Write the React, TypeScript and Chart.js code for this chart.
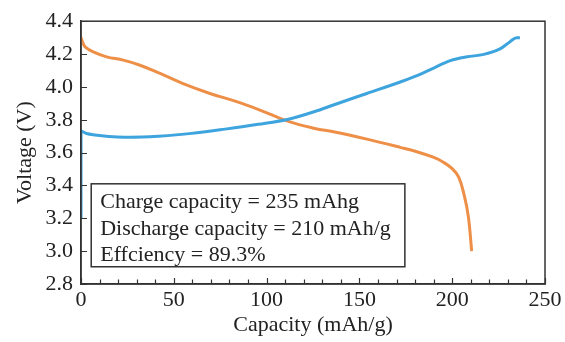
import React, { useEffect, useRef } from "react";
import { Chart, registerables } from "chart.js";

Chart.register(...registerables);

// ---- data ----
const chargeCapacity = [0, 0, 3, 7.5, 15, 23.7, 33, 41.7, 59.6, 77.6, 95.5, 111.7, 126, 136, 154, 172, 181, 190, 199, 208, 217, 226, 231, 234.7, 236.5];
const chargeVoltage = [3.2, 3.73, 3.716, 3.707, 3.698, 3.694, 3.695, 3.7, 3.717, 3.743, 3.772, 3.803, 3.85, 3.89, 3.96, 4.03, 4.068, 4.115, 4.16, 4.183, 4.198, 4.233, 4.274, 4.3, 4.3];

const dischargeCapacity = [0, 1, 2.2, 6.6, 13.8, 22.8, 31.8, 42.6, 55, 69.5, 83.9, 96.4, 111.7, 126, 136, 154, 172, 181, 189.8, 195, 200, 203.5, 206.5, 208.7, 210.5];
const dischargeVoltage = [4.3, 4.27, 4.244, 4.213, 4.183, 4.163, 4.132, 4.082, 4.02, 3.96, 3.91, 3.859, 3.79, 3.747, 3.727, 3.682, 3.632, 3.605, 3.572, 3.543, 3.502, 3.45, 3.34, 3.21, 3.0];

const xLabelStep = 50;
const xMinorStep = 10;
const yStep = 0.2;
const xRange = [0, 250];
const yRange = [2.8, 4.4];

const xTitle = "Capacity (mAh/g)";
const yTitle = "Voltage (V)";

const noteLines = [
  "Charge capacity = 235 mAhg",
  "Discharge capacity = 210 mAh/g",
  "Effciency = 89.3%",
];
// note box corners in data units
const noteBoxX = [5.5, 174.5];
const noteBoxY = [2.905, 3.41];

const FONT = "'Liberation Serif', 'Times New Roman', serif";
const INK = "#333333";
const BLUE = "#3ea4de";
const ORANGE = "#ee8f47";

const framePlugin = {
  id: "frame",
  afterDatasetsDraw(chart: any) {
    const { ctx, chartArea, scales } = chart;
    const x = scales.x, y = scales.y;
    ctx.save();
    // inward tick marks
    ctx.strokeStyle = INK;
    ctx.lineWidth = 1.2;
    ctx.beginPath();
    x.ticks.forEach((t: any) => {
      const px = Math.round(x.getPixelForValue(t.value)) + 0.5;
      const len = Math.round(t.value) % xLabelStep === 0 ? 6 : 4.5;
      ctx.moveTo(px, chartArea.bottom);
      ctx.lineTo(px, chartArea.bottom - len);
    });
    y.ticks.forEach((t: any) => {
      const py = Math.round(y.getPixelForValue(t.value)) + 0.5;
      ctx.moveTo(chartArea.left, py);
      ctx.lineTo(chartArea.left + 6, py);
    });
    ctx.stroke();
    // note box
    const left = x.getPixelForValue(noteBoxX[0]);
    const right = x.getPixelForValue(noteBoxX[1]);
    const top = y.getPixelForValue(noteBoxY[1]);
    const bottom = y.getPixelForValue(noteBoxY[0]);
    ctx.fillStyle = "#ffffff";
    ctx.fillRect(left, top, right - left, bottom - top);
    ctx.strokeStyle = INK;
    ctx.lineWidth = 1.5;
    ctx.strokeRect(left, top, right - left, bottom - top);
    ctx.fillStyle = "#222222";
    ctx.font = `22px ${FONT}`;
    ctx.textBaseline = "alphabetic";
    ctx.textAlign = "left";
    const lh = (bottom - top) / 3.12;
    noteLines.forEach((t, i) => {
      ctx.fillText(t, left + 9, top + 24.5 + i * lh);
    });
    // frame
    ctx.strokeStyle = INK;
    ctx.lineWidth = 1.5;
    ctx.strokeRect(chartArea.left, chartArea.top, chartArea.right - chartArea.left, chartArea.bottom - chartArea.top);
    ctx.restore();
  },
};

export default function App() {
  const ref = useRef<HTMLCanvasElement | null>(null);
  useEffect(() => {
    if (!ref.current) return;
    const chart = new Chart(ref.current, {
      type: "line",
      data: {
        datasets: [
          {
            label: "Charge",
            data: chargeCapacity.map((c, i) => ({ x: c, y: chargeVoltage[i] })),
            borderColor: BLUE,
            borderWidth: 3,
            pointRadius: 0,
            cubicInterpolationMode: "monotone",
            fill: false,
          },
          {
            label: "Discharge",
            data: dischargeCapacity.map((c, i) => ({ x: c, y: dischargeVoltage[i] })),
            borderColor: ORANGE,
            borderWidth: 3,
            pointRadius: 0,
            tension: 0.4,
            fill: false,
          },
        ],
      },
      options: {
        responsive: false,
        animation: false,
        events: [],
        layout: { padding: { top: 21, right: 20, left: 0, bottom: 0 } },
        plugins: { legend: { display: false }, tooltip: { enabled: false } },
        scales: {
          x: {
            type: "linear",
            min: xRange[0],
            max: xRange[1],
            afterFit: (s: any) => { s.height = 58; },
            ticks: {
              stepSize: xMinorStep,
              autoSkip: false,
              maxRotation: 0,
              padding: 3,
              color: "#222222",
              font: { family: FONT, size: 22 },
              callback: (v: any) => (Math.round(Number(v)) % xLabelStep === 0 ? String(Math.round(Number(v))) : ""),
            },
            grid: { drawOnChartArea: false, drawTicks: false },
            border: { display: true, color: INK, width: 1.5 },
            title: { display: true, text: xTitle, color: "#222222", font: { family: FONT, size: 22 }, padding: { top: 0, bottom: 4 } },
          },
          y: {
            type: "linear",
            min: yRange[0],
            max: yRange[1],
            afterFit: (s: any) => { s.width = 81; },
            ticks: {
              stepSize: yStep,
              autoSkip: false,
              padding: 8,
              color: "#222222",
              font: { family: FONT, size: 22 },
              callback: (v: any) => Number(v).toFixed(1),
            },
            grid: { drawOnChartArea: false, drawTicks: false },
            border: { display: true, color: INK, width: 1.5 },
            title: { display: true, text: yTitle, color: "#222222", font: { family: FONT, size: 22 }, padding: { top: 12, bottom: 0 } },
          },
        },
      },
      plugins: [framePlugin],
    } as any);
    return () => chart.destroy();
  }, []);
  return (
    <div style={{ position: "fixed", left: 0, top: 0, width: 565, height: 342, background: "#fff" }}>
      <canvas ref={ref} width={565} height={342} />
    </div>
  );
}
